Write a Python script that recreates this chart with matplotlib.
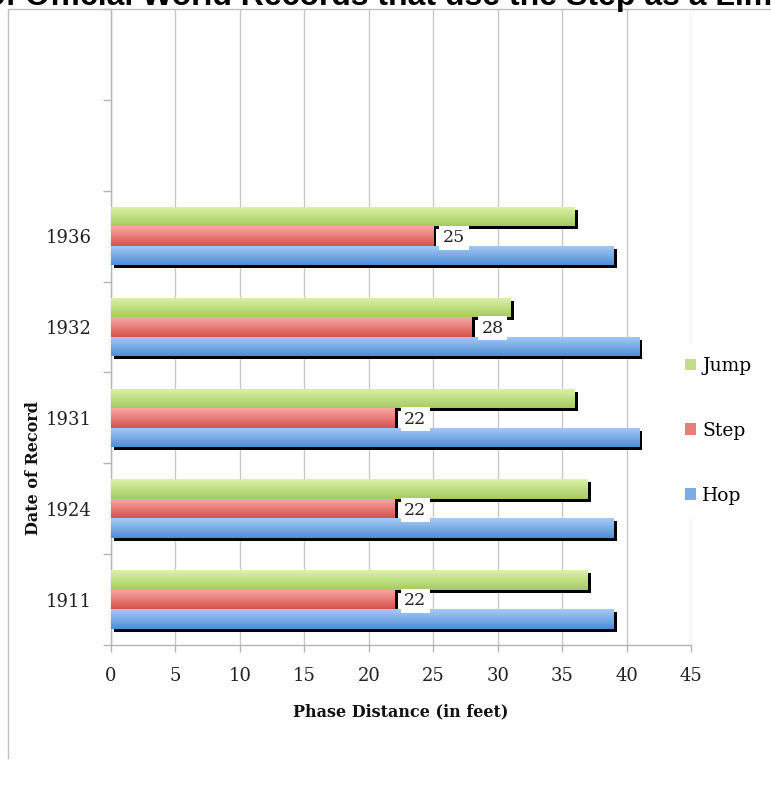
import numpy as np
import matplotlib
matplotlib.use("Agg")
import matplotlib.pyplot as plt
from matplotlib.patches import Patch
from matplotlib.lines import Line2D
import matplotlib.transforms as mtransforms

years = ["1911", "1924", "1931", "1932", "1936", "", ""]
hop = [39, 39, 41, 41, 39]
step = [22, 22, 22, 28, 25]
jump = [37, 37, 36, 31, 36]
x_ticks = [0, 5, 10, 15, 20, 25, 30, 35, 40, 45]

colors = {
    "Hop": ("#a8cbf6", "#4e8dd5"),
    "Step": ("#f9aaa7", "#d6514c"),
    "Jump": ("#dcf3a8", "#a6ca61"),
}

W, H = 771, 786
fig = plt.figure(figsize=(W / 100, H / 100), dpi=100)
ax = fig.add_axes([111 / W, 1 - 645 / H, 580 / W, 636 / H])

serif = "DejaVu Serif"
bh = 0.215
ypos = np.arange(len(hop))

shadow_tr = mtransforms.offset_copy(ax.transData, fig=fig, x=3, y=-3, units="dots")


def grad_img(top, bottom, n=64):
    c1 = np.array(matplotlib.colors.to_rgb(top))
    c2 = np.array(matplotlib.colors.to_rgb(bottom))
    t = np.linspace(0, 1, n)[:, None]
    return (c1 * (1 - t) + c2 * t)[:, None, :]


series = [("Hop", hop, -bh), ("Step", step, 0.0), ("Jump", jump, bh)]

# shadows first
for name, vals, off in series:
    ax.barh(ypos + off, vals, height=bh, color="black", zorder=2,
            transform=shadow_tr)

# gradient bars
for name, vals, off in series:
    bars = ax.barh(ypos + off, vals, height=bh, color="none", zorder=3)
    img = grad_img(*colors[name])
    for b in bars:
        x0, y0 = b.get_x(), b.get_y()
        im = ax.imshow(img, extent=[x0, x0 + b.get_width(), y0, y0 + b.get_height()],
                       aspect="auto", zorder=3, interpolation="bilinear")
        im.set_clip_path(b)

# step labels
for y, v in zip(ypos, step):
    ax.annotate(str(v), (v, y), xytext=(7, -1), textcoords="offset points",
                ha="left", va="center", fontsize=12.5, family=serif, color="#222222",
                zorder=5,
                bbox=dict(boxstyle="square,pad=0.2", fc="white", ec="none"))

ax.set_xlim(0, 45)
ax.set_ylim(-0.5, len(years) - 0.5)
ax.set_xticks(x_ticks)
ax.set_xticklabels([str(t) for t in x_ticks], family=serif, fontsize=13,
                   color="#222222")
ax.set_yticks(np.arange(len(years) + 1) - 0.5)
ax.set_yticklabels([])
ax.set_yticks(np.arange(len(years)), minor=True)
ax.set_yticklabels(years, minor=True, family=serif, fontsize=13, color="#222222")
ax.tick_params(axis="y", which="minor", length=0, pad=14)
ax.tick_params(axis="y", which="major", length=6, color="#b5b5b5", width=1)
ax.tick_params(axis="x", length=5, color="#b5b5b5", width=1, pad=11)

ax.grid(axis="x", color="#c8c8c8", linewidth=1, zorder=0)
ax.set_axisbelow(True)
for s in ["top", "right"]:
    ax.spines[s].set_visible(False)
for s in ["left", "bottom"]:
    ax.spines[s].set_color("#b5b5b5")
    ax.spines[s].set_linewidth(1)

fig.text(401 / W, 1 - 712 / H, "Phase Distance (in feet)", ha="center", va="center",
         family=serif, fontsize=11.5, fontweight="bold", color="#111111")
fig.text(33 / W, 1 - 468 / H, "Date of Record", ha="center", va="center",
         rotation=90, family=serif, fontsize=11.5, fontweight="bold", color="#111111")

handles = []
for n in ["Jump", "Step", "Hop"]:
    mid = (np.array(matplotlib.colors.to_rgb(colors[n][0])) +
           np.array(matplotlib.colors.to_rgb(colors[n][1]))) / 2
    handles.append(Patch(facecolor=mid, edgecolor="none", label=n))
leg = fig.legend(handles=handles, loc="center left",
                 bbox_to_anchor=(662 / W, 1 - 431 / H),
                 prop={"family": serif, "size": 13.5}, frameon=True,
                 handlelength=0.6, handleheight=0.6, handletextpad=0.35,
                 labelspacing=2.5, borderpad=0.7)
leg.get_frame().set_facecolor("white")
leg.get_frame().set_edgecolor("none")
leg.get_frame().set_alpha(1)

# chart border (left and top)
fig.add_artist(Line2D([8 / W, 8 / W, 1], [1 - 758 / H, 1 - 9 / H, 1 - 9 / H],
                      transform=fig.transFigure, color="#c0c0c0", linewidth=1))

fig.text(-14 / W, 1 - 5 / H, "of Official World Records that use the Step as a Limb",
         ha="left", va="baseline", family="Liberation Sans", fontweight="bold",
         fontsize=23, color="black")

fig.savefig("out.png", dpi=100)
